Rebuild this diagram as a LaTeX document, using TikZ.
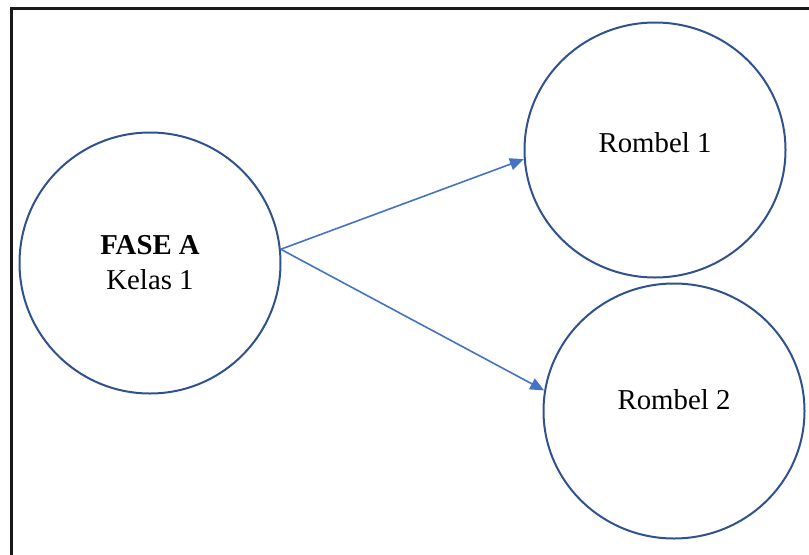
\documentclass[tikz,border=0pt]{standalone}
\usepackage{fontspec}
\setmainfont{Liberation Serif}
\usetikzlibrary{arrows.meta,shapes.geometric}
\definecolor{ringblue}{HTML}{2F528F}
\definecolor{linkblue}{HTML}{4472C4}

\begin{document}
\begin{tikzpicture}[x=0.5pt,y=0.5pt,
	kelas/.style={ellipse,draw=ringblue,line width=1pt,minimum width=130.5pt,minimum height=130.5pt,
		inner sep=0pt,align=center,font=\fontsize{14.4}{17.5}\selectfont},
	rombel/.style={kelas,minimum height=127.5pt},
	link/.style={draw=linkblue,line width=0.8pt,-{Triangle[length=7pt,width=6pt]}}]
	\useasboundingbox (0,0) rectangle (809,554);
	\clip (0,0) rectangle (809,554);
	\draw[line width=1.5pt,black!90] (11,-20) -- (11,546) -- (830,546);
	% fase and its rombel
	\node[kelas] (fase) at (150,291) {\textbf{FASE A}\\Kelas 1};
	\node[rombel] (r1) at (655,404) {\raisebox{-1.25pt}[0pt][0pt]{Rombel 1}};
	\node[rombel] (r2) at (674,143) {\raisebox{1pt}[0pt][0pt]{Rombel 2}};
	\foreach \R/\A in {r1/184, r2/171}
	{\draw[link] (fase.6) -- (\R.\A);}
\end{tikzpicture}
\end{document}
